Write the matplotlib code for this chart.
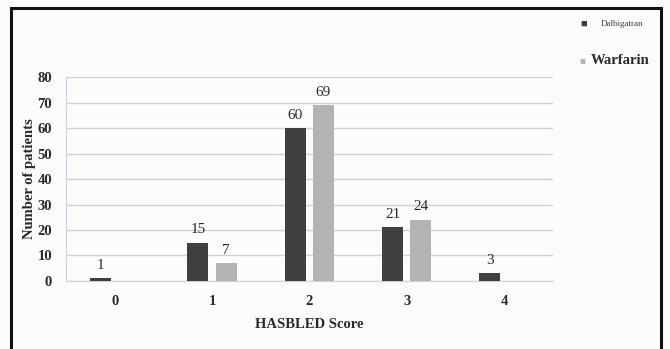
import matplotlib
matplotlib.use("Agg")
import matplotlib.pyplot as plt
from matplotlib.patches import Rectangle
import numpy as np

scores = ["0", "1", "2", "3", "4"]
dabigatran = [1, 15, 60, 21, 3]
warfarin = [0, 7, 69, 24, 0]
y_ticks = [0, 10, 20, 30, 40, 50, 60, 70, 80]

dark = "#3f3f3f"
light = "#b3b3b3"
grid_col = "#c9d3da"
txt = "#2a2a2a"

plt.rcParams["font.family"] = ["Liberation Serif", "DejaVu Serif"]

fig = plt.figure(figsize=(6.7, 3.49), dpi=100, facecolor="#fdfcfa")
ax = fig.add_axes([0.0985, 0.195, 0.7265, 0.584], facecolor="#fdfcfa")

x = np.arange(len(scores))
w = 0.215
off = 0.145
ax.bar(x - off, dabigatran, w, color=dark, label="Dalbigatran", zorder=3)
ax.bar(x + off, warfarin, w, color=light, label="Warfarin", zorder=3)

for xi, v in zip(x, dabigatran):
    if v > 0:
        ax.text(xi - off, v + 2.5, str(v), ha="center", va="bottom",
                fontsize=11, color=txt)
for xi, v in zip(x, warfarin):
    if v > 0:
        ax.text(xi + off, v + 2.5, str(v), ha="center", va="bottom",
                fontsize=11, color=txt)

ax.set_xlim(-0.5, 4.5)
ax.set_ylim(0, 80)
ax.set_yticks(y_ticks)
ax.set_xticks(x)
ax.set_xticklabels(scores)
ax.yaxis.grid(True, color=grid_col, linewidth=1.0, zorder=0)
ax.set_axisbelow(True)
for s in ["top", "right"]:
    ax.spines[s].set_visible(False)
ax.spines["left"].set_color(grid_col)
ax.spines["bottom"].set_color(grid_col)
ax.tick_params(axis="both", length=0, colors=txt, labelsize=10.5)
ax.tick_params(axis="x", pad=10)
ax.tick_params(axis="y", pad=10)
for lab in ax.get_yticklabels() + ax.get_xticklabels():
    lab.set_fontweight("bold")

ax.set_xlabel("HASBLED Score", fontsize=10.5, fontweight="bold", color=txt, labelpad=7)
ax.set_ylabel("Number of patients", fontsize=10.5, fontweight="bold", color=txt, labelpad=1)

# legend entries to the right of the plot
fig.text(0.866, 0.931, "\u25A0", fontsize=8, color=dark, ha="left", va="center")
fig.text(0.896, 0.931, "Dalbigatran", fontsize=6.5, color="#34404a", ha="left", va="center")
fig.text(0.864, 0.827, "\u25A0", fontsize=7, color=light, ha="left", va="center")
fig.text(0.882, 0.827, "Warfarin", fontsize=10.5, fontweight="bold", color=txt,
         ha="left", va="center")

# outer frame
fig.patches.append(Rectangle((0.017, -0.05), 0.969, 1.027, transform=fig.transFigure,
                             fill=False, edgecolor="#111111", linewidth=2.2))

fig.savefig("out.png", dpi=100, facecolor=fig.get_facecolor())
